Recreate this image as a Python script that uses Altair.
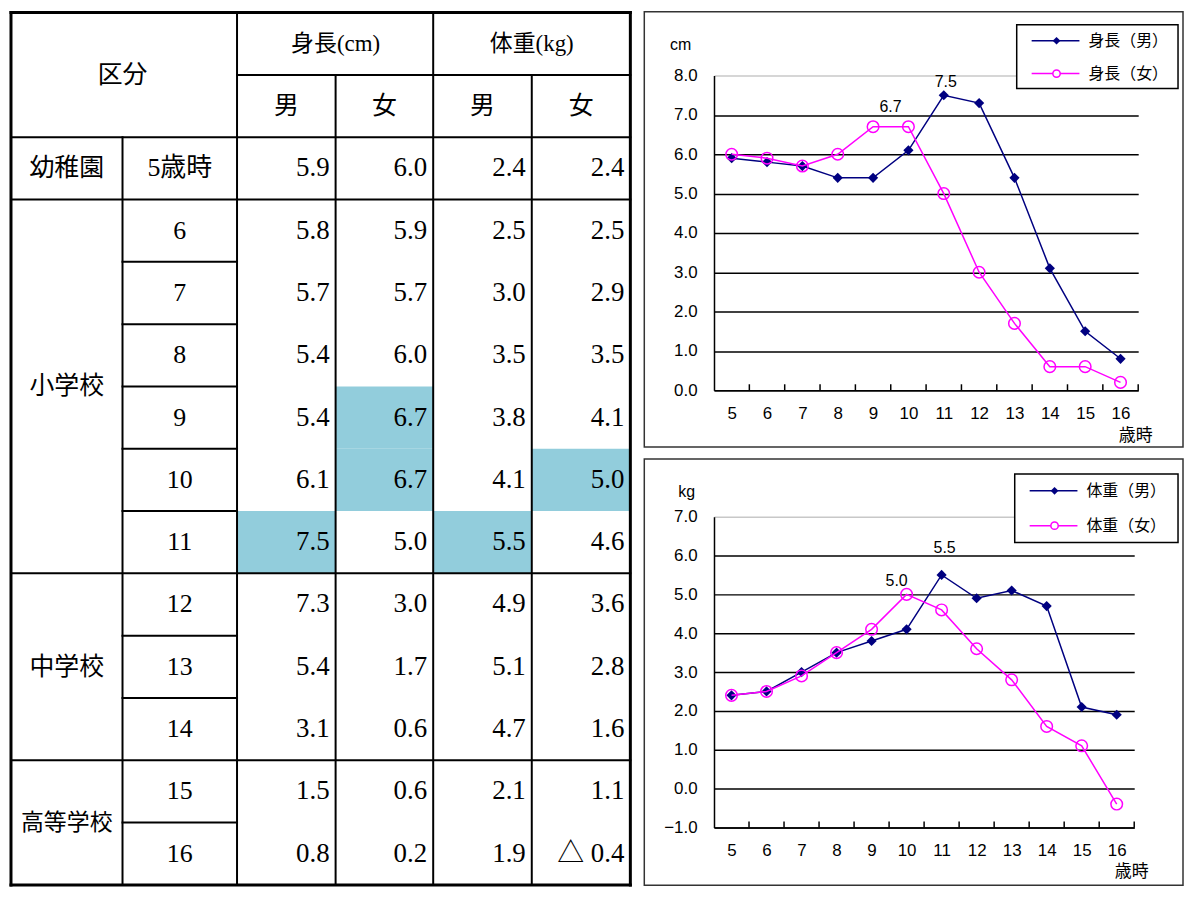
import altair as alt
import pandas as pd

# ---------------- data ----------------
ages = [5, 6, 7, 8, 9, 10, 11, 12, 13, 14, 15, 16]
age_labels = ["5歳時", "6", "7", "8", "9", "10", "11", "12", "13", "14", "15", "16"]
height_m = [5.9, 5.8, 5.7, 5.4, 5.4, 6.1, 7.5, 7.3, 5.4, 3.1, 1.5, 0.8]
height_f = [6.0, 5.9, 5.7, 6.0, 6.7, 6.7, 5.0, 3.0, 1.7, 0.6, 0.6, 0.2]
weight_m = [2.4, 2.5, 3.0, 3.5, 3.8, 4.1, 5.5, 4.9, 5.1, 4.7, 2.1, 1.9]
weight_f = [2.4, 2.5, 2.9, 3.5, 4.1, 5.0, 4.6, 3.6, 2.8, 1.6, 1.1, -0.4]

school_groups = ["幼稚園", "小学校", "中学校", "高等学校"]
school_sizes = [1, 6, 3, 2]
corner_label = "区分"
measure_labels = ["身長(cm)", "体重(kg)"]
sex_labels = ["男", "女", "男", "女"]
height_series = ["身長（男）", "身長（女）"]
weight_series = ["体重（男）", "体重（女）"]
height_unit = "cm"
weight_unit = "kg"
age_unit = "歳時"

# ---------------- style ----------------
NAVY = "#000080"
MAG = "#FF00FF"
HL = "#92CDDC"
SERIF = "Liberation Serif, Noto Sans CJK JP"
SANS = "Liberation Sans, Noto Sans CJK JP"

TABLE_W = 622
TABLE_H = 876
TOP_SHIFT = 63.25  # table drawn above its origin so that it lines up with the framed charts
HEAD = 2
NROW = HEAD + len(ages)
value_cols = [height_m, height_f, weight_m, weight_f]

XS = alt.Scale(domain=[0, 1, 2, 3, 4, 5, 6], range=[0, 112, 227, 326, 424, 523, 622], nice=False, zero=False)
YS = alt.Scale(domain=[0, NROW], range=[-TOP_SHIFT, TABLE_H - TOP_SHIFT], nice=False, zero=False)


def tx(field):
    return alt.X(field, type="quantitative", scale=XS, axis=None)


def ty(field):
    return alt.Y(field, type="quantitative", scale=YS, axis=None)


def fmt(v):
    return f"{v:.1f}" if v >= 0 else f"△ {abs(v):.1f}"


# highlighted cells = maxima of each column
hl = []
for c, vals in enumerate(value_cols):
    m = max(vals)
    for i, v in enumerate(vals):
        if v == m:
            hl.append({"x1": 2 + c, "x2": 3 + c, "y1": HEAD + i, "y2": HEAD + i + 1})
hl_df = pd.DataFrame(hl)

# grid lines of the table
lines = []
def hline(r, c1, c2):
    lines.append({"x1": c1, "x2": c2, "y1": r, "y2": r, "w": 3 if r in (0, NROW) else 2})
def vline(c, r1, r2):
    lines.append({"x1": c, "x2": c, "y1": r1, "y2": r2, "w": 3 if c in (0, 6) else 2})

hline(0, 0, 6)
hline(1, 2, 6)
hline(2, 0, 6)
r = HEAD
for size in school_sizes:
    for k in range(1, size):
        hline(r + k, 1, 2)
    r += size
    hline(r, 0, 6)
vline(0, 0, NROW)
vline(1, 2, NROW)
vline(2, 0, NROW)
vline(3, 1, NROW)
vline(4, 0, NROW)
vline(5, 1, NROW)
vline(6, 0, NROW)
lines_df = pd.DataFrame(lines)

head_rows = [{"x": 1.0, "y": 1.0, "t": corner_label}]
for k, lab in enumerate(measure_labels):
    head_rows.append({"x": 3.0 + 2 * k, "y": 0.5, "t": lab})
for k, lab in enumerate(sex_labels):
    head_rows.append({"x": 2.5 + k, "y": 1.5, "t": lab})
r = HEAD
for g, size in zip(school_groups, school_sizes):
    head_rows.append({"x": 0.5, "y": r + size / 2, "t": g})
    r += size
head_df = pd.DataFrame(head_rows)
head_df["small"] = head_df["t"].str.len() >= 4

age_df = pd.DataFrame({"x": 1.5, "y": [HEAD + i + 0.5 for i in range(len(ages))], "t": age_labels})

vals = []
for c, col in enumerate(value_cols):
    for i, v in enumerate(col):
        vals.append({"x": 3 + c, "y": HEAD + i + 0.5, "t": fmt(v)})
val_df = pd.DataFrame(vals)

table = alt.layer(
    alt.Chart(hl_df).mark_rect(color=HL).encode(x=tx("x1"), x2="x2:Q", y=ty("y1"), y2="y2:Q"),
    alt.Chart(head_df[~head_df["small"]]).mark_text(font=SERIF, fontSize=25, align="center", baseline="middle", color="black").encode(
        x=tx("x"), y=ty("y"), text="t:N"),
    alt.Chart(head_df[head_df["small"]]).mark_text(font=SERIF, fontSize=23, align="center", baseline="middle", color="black").encode(
        x=tx("x"), y=ty("y"), text="t:N"),
    alt.Chart(age_df).mark_text(font=SERIF, fontSize=26, align="center", baseline="middle", color="black").encode(
        x=tx("x"), y=ty("y"), text="t:N"),
    alt.Chart(val_df).mark_text(font=SERIF, fontSize=27, align="right", baseline="middle", dx=-6, color="black").encode(
        x=tx("x"), y=ty("y"), text="t:N"),
    alt.Chart(lines_df).mark_rule(color="black", strokeCap="square").encode(
        x=tx("x1"), x2="x2:Q", y=ty("y1"), y2="y2:Q", strokeWidth=alt.StrokeWidth("w:Q", scale=None)),
).properties(width=TABLE_W, height=TABLE_H - TOP_SHIFT)


# ---------------- line charts ----------------
def peak(v):
    m = max(v)
    i = len(v) - 1 - v[::-1].index(m)
    return ages[i], m


def panel(vm, vf, names, unit, ymin, ymax, W, H, frame, unit_pos, age_pos, lbox, lrows, shifts):
    n = len(ages)
    df = pd.DataFrame({"age": ages * 2, "value": vm + vf, "series": [names[0]] * n + [names[1]] * n})
    xsc = alt.Scale(domain=[ages[0] - 0.5, ages[-1] + 0.5], nice=False, zero=False)
    ysc = alt.Scale(domain=[ymin, ymax], nice=False, zero=False)
    xax = alt.Axis(values=ages, format="d", ticks=False, grid=False, domain=True, domainColor="black",
                   domainWidth=1.5, labelPadding=15, labelFontSize=17, labelFont=SANS, labelColor="black",
                   labelFlush=False, labelOverlap=False,
                   title=age_unit, titleX=age_pos[0], titleY=age_pos[1], titleAngle=0, titleAlign="center",
                   titleBaseline="middle", titleFontSize=17, titleFontWeight="normal", titleFont=SANS,
                   titleColor="black")
    yax = alt.Axis(values=list(range(ymin, ymax + 1)), format=".1f", ticks=False, grid=True,
                   gridColor={"condition": {"test": f"datum.value >= {ymax}", "value": "#c8c8c8"}, "value": "black"},
                   gridWidth=1.5, domain=True, domainColor="black", domainWidth=1.5, labelPadding=17,
                   labelFontSize=17, labelFont=SANS, labelColor="black", labelFlush=False, labelOverlap=False,
                   title=unit, titleX=unit_pos[0], titleY=unit_pos[1], titleAngle=0, titleAlign="center",
                   titleBaseline="middle", titleFontSize=16, titleFontWeight="normal", titleFont=SANS,
                   titleColor="black")
    X = alt.X("age:Q", scale=xsc, axis=xax)
    Y = alt.Y("value:Q", scale=ysc, axis=yax)
    base = alt.Chart(df)
    one = pd.DataFrame({"k": [0]})

    layers = [
        alt.Chart(one).mark_rect(fillOpacity=0, stroke="#333333", strokeWidth=1.5).encode(
            x=alt.value(frame[0]), x2=alt.value(frame[1]), y=alt.value(frame[2]), y2=alt.value(frame[3])),
        base.transform_filter(alt.datum.series == names[0]).transform_calculate(tick="datum.age + 0.5")
        .mark_rule(color="black", strokeWidth=1.5).encode(
            x=alt.X("tick:Q", scale=xsc, axis=xax), y=alt.value(H), y2=alt.value(H - 6)),
    ]
    styles = [
        dict(color=NAVY, shape="diamond", filled=True, size=105, strokeWidth=1),
        dict(color=MAG, shape="circle", filled=False, size=135, strokeWidth=1.5),
    ]
    for name, st in zip(names, styles):
        sub = base.transform_filter(alt.datum.series == name)
        layers.append(sub.mark_line(color=st["color"], strokeWidth=1.5).encode(x=X, y=Y))
        layers.append(sub.mark_point(color=st["color"], shape=st["shape"], filled=st["filled"], size=st["size"],
                                     strokeWidth=st["strokeWidth"], opacity=1).encode(x=X, y=Y))
    for v, (dx, dy) in zip([vm, vf], shifts):
        a, m = peak(v)
        ldf = pd.DataFrame({"age": [a], "value": [m], "label": [f"{m:.1f}"]})
        layers.append(alt.Chart(ldf).mark_text(font=SANS, fontSize=16, color="black", dx=dx, dy=dy,
                                               baseline="middle").encode(x=X, y=Y, text="label:N"))
    # legend
    layers.append(alt.Chart(one).mark_rect(fill="white", stroke="black", strokeWidth=1.5).encode(
        x=alt.value(lbox[0]), x2=alt.value(lbox[1]), y=alt.value(lbox[2]), y2=alt.value(lbox[3])))
    for name, st, ey in zip(names, styles, lrows):
        ndf = pd.DataFrame({"name": [name]})
        lx = lbox[0] + 15
        layers.append(alt.Chart(ndf).mark_rule(color=st["color"], strokeWidth=1.5).encode(
            x=alt.value(lx), x2=alt.value(lx + 48), y=alt.value(ey)))
        layers.append(alt.Chart(ndf).mark_point(color=st["color"], shape=st["shape"], filled=st["filled"],
                                                size=60 if st["filled"] else 55, strokeWidth=1.5, opacity=1,
                                                fill=st["color"] if st["filled"] else "white").encode(
            x=alt.value(lx + 25), y=alt.value(ey)))
        layers.append(alt.Chart(ndf).mark_text(font=SANS, fontSize=16, color="black", align="left",
                                               baseline="middle").encode(
            x=alt.value(lx + 57), y=alt.value(ey), text="name:N"))
    return alt.layer(*layers).properties(width=W, height=H)


top = panel(height_m, height_f, height_series, height_unit, 0, 8, 426, 316,
            frame=(-70, 471, -64, 373), unit_pos=(-34, -31), age_pos=(423, 45),
            lbox=(304, 466, -51, 13), lrows=(-35, -2), shifts=[(2, -13), (-18, -20)])
bottom = panel(weight_m, weight_f, weight_series, weight_unit, -1, 7, 422, 312,
               frame=(-70, 471, -58, 370), unit_pos=(-28, -25), age_pos=(419, 44),
               lbox=(302, 466, -43, 26), lrows=(-26, 9), shifts=[(3, -27), (-10, -13)])

chart = alt.hconcat(
    table,
    alt.vconcat(top, bottom, spacing=10),
    spacing=10,
).properties(padding=0).configure_view(stroke=None)

chart.save("out.html", embed_options={"renderer": "svg", "actions": False})
